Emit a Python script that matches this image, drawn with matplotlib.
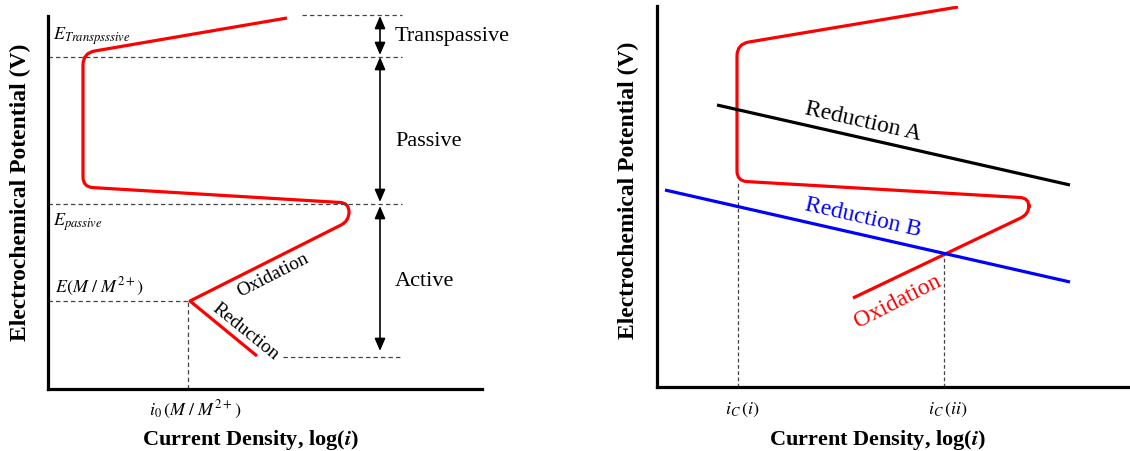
import numpy as np
import matplotlib
matplotlib.use("Agg")
import matplotlib.pyplot as plt
from matplotlib.path import Path
from matplotlib.patches import PathPatch

plt.rcParams['font.family'] = ['Liberation Serif', 'DejaVu Serif']
plt.rcParams['mathtext.fontset'] = 'stix'

# ---- left panel: polarisation curve (arbitrary units, origin at axes corner)
curve_x = [239, 35, 35, 301, 301, 142, 209]
curve_y = [371, 336, 202, 186, 168, 88, 33]
curve_r = [0, 12, 10, 9, 9, 0, 0]          # corner rounding

levels_y = [374.5, 332.5, 185, 88, 32]     # E_top, E_trans, E_pass, E(M/M2+), bottom
levels_x0 = [254, 0, 0, 0, 235]
levels_x1 = [354, 354, 354, 142, 352]
i0_x = 140

regions = ['Transpassive', 'Passive', 'Active']
region_lo = [334, 187, 38]
region_hi = [373, 332, 183]
region_lab_y = [353, 248, 108]
arrow_x = 332

# ---- right panel: mixed potential
ox_x = [301, 80, 80, 372, 372, 196]
ox_y = [380, 343, 206, 189, 173, 89]
ox_r = [0, 12, 10, 9, 9, 0]
redA_x = [60, 413]
redA_y = [282, 202]
redB_x = [8, 413]
redB_y = [197, 105]
ic_x = [81, 287]
ic_y = [205, 134]
ic_labels = [r'$i_C\,(i)$', r'$i_C\,(ii)$']


def rounded(xs, ys, radii):
    verts = [(xs[0], ys[0])]
    codes = [Path.MOVETO]
    for i in range(1, len(xs) - 1):
        p = np.array([xs[i], ys[i]], float)
        r = radii[i]
        if r == 0:
            verts.append(tuple(p)); codes.append(Path.LINETO)
            continue
        a = np.array([xs[i - 1], ys[i - 1]], float) - p
        b = np.array([xs[i + 1], ys[i + 1]], float) - p
        pa = p + a / np.hypot(*a) * r
        pb = p + b / np.hypot(*b) * r
        verts += [tuple(pa), tuple(p), tuple(pb)]
        codes += [Path.LINETO, Path.CURVE3, Path.CURVE3]
    verts.append((xs[-1], ys[-1])); codes.append(Path.LINETO)
    return Path(verts, codes)


W, H = 1130, 452
fig = plt.figure(figsize=(W / 100, H / 100), dpi=100)


def make_axes(x0, y0, x1, y1):
    ax = fig.add_axes([x0 / W, (H - y0) / H, (x1 - x0) / W, (y0 - y1) / H])
    ax.set_xlim(0, x1 - x0)
    ax.set_ylim(0, y0 - y1)
    for s in ['top', 'right']:
        ax.spines[s].set_visible(False)
    for s in ['left', 'bottom']:
        ax.spines[s].set_linewidth(2.3)
    ax.set_xticks([])
    ax.set_yticks([])
    ax.set_xlabel(r'Current Density, log($\mathbfit{i}$)', fontsize=16, fontweight='bold')
    ax.set_ylabel('Electrochemical Potential (V)', fontsize=17, fontweight='bold')
    return ax


dash = dict(color='#444444', lw=0.9, ls=(0, (3.5, 2.5)), clip_on=False)

# left
ax1 = make_axes(48, 390, 482, 17)
ax1.xaxis.set_label_coords(202 / 434, -38 / 373)
ax1.yaxis.set_label_coords(-17 / 434, 198 / 373)
for y, a, b in zip(levels_y, levels_x0, levels_x1):
    ax1.plot([a, b], [y, y], **dash)
ax1.plot([i0_x, i0_x], [0, levels_y[3]], **dash)
ax1.add_patch(PathPatch(rounded(curve_x, curve_y, curve_r), fill=False,
                        ec='#ff0000', lw=2.3, capstyle='butt', joinstyle='round'))
for name, lo, hi, ly in zip(regions, region_lo, region_hi, region_lab_y):
    ax1.annotate('', xy=(arrow_x, lo), xytext=(arrow_x, hi),
                 arrowprops=dict(arrowstyle='<|-|>,head_length=0.75,head_width=0.32',
                                 color='black', lw=1.2, shrinkA=0, shrinkB=0))
    ax1.text(arrow_x + 15, ly, name, fontsize=16, ha='left', va='center', clip_on=False)
ax1.text(5, 354, r'$E_{Transpsssive}$', fontsize=13, ha='left', va='center')
ax1.text(5, 168, r'$E_{passive}$', fontsize=13, ha='left', va='center')
ax1.text(7, 103, r'$E(M\ /\ M^{2+})$', fontsize=13, ha='left', va='center')
ax1.text(147, -20, r'$i_0\,(M\ /\ M^{2+})$', fontsize=13, ha='center', va='center', clip_on=False)
ax1.text(225, 115, 'Oxidation', fontsize=14, rotation=27, ha='center', va='center',
         rotation_mode='anchor')
ax1.text(197, 58, 'Reduction', fontsize=14, rotation=-39, ha='center', va='center',
         rotation_mode='anchor')

# right
ax2 = make_axes(657, 388, 1130, 7)
ax2.xaxis.set_label_coords(220 / 473, -40 / 381)
ax2.yaxis.set_label_coords(-18 / 473, 198 / 381)
for x, y in zip(ic_x, ic_y):
    ax2.plot([x, x], [0, y], color='#444444', lw=0.9, ls=(0, (3, 2)))
ax2.plot(redA_x, redA_y, color='black', lw=2.3, solid_capstyle='butt')
ax2.plot(redB_x, redB_y, color='#0000ff', lw=2.3, solid_capstyle='butt')
ax2.add_patch(PathPatch(rounded(ox_x, ox_y, ox_r), fill=False,
                        ec='#ff0000', lw=2.3, capstyle='butt', joinstyle='round'))
ax2.text(206, 266, 'Reduction A', fontsize=17, rotation=-12.8, ha='center', va='center',
         rotation_mode='anchor')
ax2.text(206, 170, 'Reduction B', fontsize=17, rotation=-12.8, ha='center', va='center',
         rotation_mode='anchor', color='#0000ff')
ax2.text(241, 86, 'Oxidation', fontsize=17, rotation=27, ha='center', va='center',
         rotation_mode='anchor', color='#ff0000')
for x, lab in zip(ic_x, ic_labels):
    ax2.text(x + 4, -22, lab, fontsize=13, ha='center', va='center', clip_on=False)

fig.savefig('out.png', dpi=100)
